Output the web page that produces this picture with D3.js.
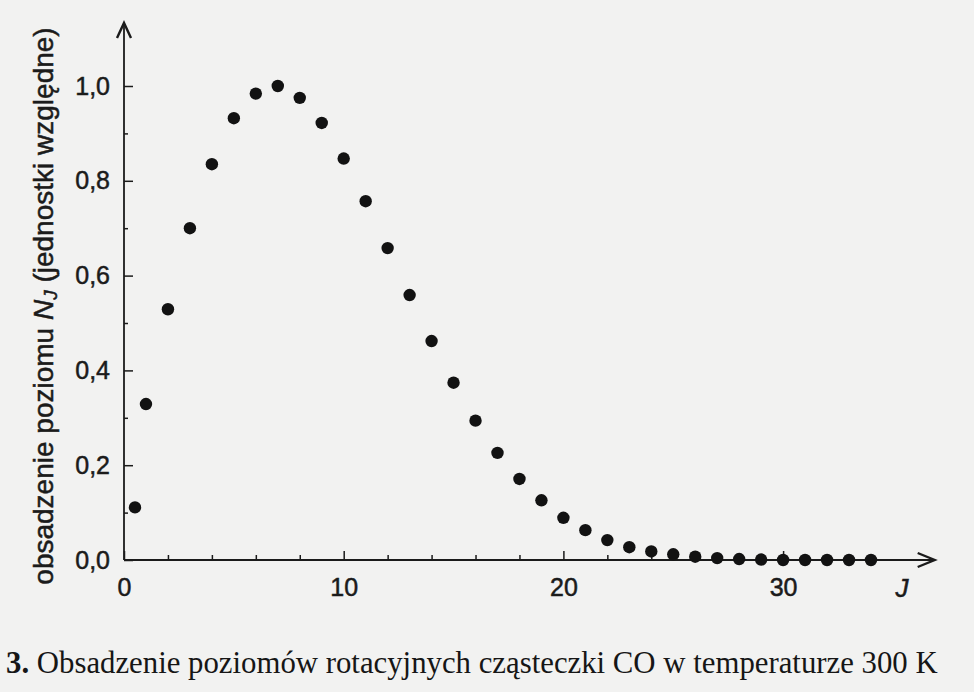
<!DOCTYPE html>
<html>
<head>
<meta charset="utf-8">
<script src="https://cdn.jsdelivr.net/npm/d3@7"></script>
<style>
  html, body { margin: 0; padding: 0; background: #f2f2f1; }
  svg { display: block; }
</style>
</head>
<body>
<svg id="chart" width="974" height="692"></svg>
<script>
// ---- data ----
// rotational quantum number J (the J = 0 point is drawn half a unit right of the axis)
const levelJ = [0.5, 1, 2, 3, 4, 5, 6, 7, 8, 9, 10, 11, 12, 13, 14, 15, 16, 17, 18, 19,
                20, 21, 22, 23, 24, 25, 26, 27, 28, 29, 30, 31, 32, 33, 34];
// relative population N_J
const population = [0.111, 0.329, 0.529, 0.700, 0.835, 0.932, 0.984, 1.000, 0.975, 0.922,
                    0.847, 0.757, 0.658, 0.559, 0.462, 0.374, 0.294, 0.226, 0.171, 0.126,
                    0.089, 0.063, 0.042, 0.027, 0.018, 0.012, 0.007, 0.004, 0.002, 0.001,
                    0.000, 0.000, 0.000, 0.000, 0.000];
const xMajorTicks = [0, 10, 20, 30];
const xMinorTicks = [2, 4, 6, 8, 12, 14, 16, 18, 22, 24, 26, 28, 32, 34];
const yMajorTicks = [0.0, 0.2, 0.4, 0.6, 0.8, 1.0];
const yMinorTicks = [0.1, 0.3, 0.5, 0.7, 0.9];
const xAxisEnd = 36.9;   // arrow tip of the J axis
const yAxisEnd = 1.133;  // arrow tip of the N_J axis
const xTitle = "J";
const yTitleParts = ["obsadzenie poziomu ", "N", "J", " (jednostki względne)"];
const captionNumber = "3.";
const captionText = " Obsadzenie poziomów rotacyjnych cząsteczki CO w temperaturze 300 K";

// ---- drawing ----
const svg = d3.select("#chart");
const ink = "#1b1b1b";

const x = d3.scaleLinear().domain([0, 10]).range([124, 343.7]);
const y = d3.scaleLinear().domain([0, 1]).range([560, 86]);

const plLocale = d3.formatLocale({decimal: ",", thousands: " ", grouping: [3], currency: ["", " zł"]});
const fmt = plLocale.format(".1f");

const tickFont = "'Liberation Sans', Arial, Helvetica, sans-serif";

// axis lines with arrows
svg.append("line")
  .attr("x1", x(0)).attr("y1", y(0)).attr("x2", x(xAxisEnd)).attr("y2", y(0))
  .attr("stroke", ink).attr("stroke-width", 1.8);
svg.append("line")
  .attr("x1", x(0)).attr("y1", y(0)).attr("x2", x(0)).attr("y2", y(yAxisEnd))
  .attr("stroke", ink).attr("stroke-width", 1.8);
// arrow heads
const xt = x(xAxisEnd), yt = y(0);
svg.append("path")
  .attr("d", `M${xt - 17},${yt - 7} L${xt},${yt} L${xt - 17},${yt + 7}`)
  .attr("fill", "none").attr("stroke", ink).attr("stroke-width", 2.4)
  .attr("stroke-linejoin", "miter");
const ytx = x(0), yty = y(yAxisEnd);
svg.append("path")
  .attr("d", `M${ytx - 7},${yty + 15} L${ytx},${yty} L${ytx + 7},${yty + 15}`)
  .attr("fill", "none").attr("stroke", ink).attr("stroke-width", 2.4)
  .attr("stroke-linejoin", "miter");

function styleAxis(g, fontSize) {
  g.select(".domain").remove();
  g.selectAll(".tick line").attr("stroke", ink).attr("stroke-width", 1.5);
  g.selectAll(".tick text").attr("fill", ink)
    .attr("stroke", ink).attr("stroke-width", 0.5)
    .style("font-family", tickFont).style("font-size", fontSize + "px");
}

// x axis: major ticks (inward) with labels
svg.append("g")
  .attr("transform", `translate(0,${y(0)})`)
  .call(d3.axisBottom(x).tickValues(xMajorTicks).tickSize(-9).tickPadding(18).tickFormat(d3.format("d")))
  .call(g => styleAxis(g, 25));
// x axis: minor ticks
svg.append("g")
  .attr("transform", `translate(0,${y(0)})`)
  .call(d3.axisBottom(x).tickValues(xMinorTicks).tickSize(-5).tickFormat(""))
  .call(g => styleAxis(g, 25));

// y axis: major ticks (inward) with labels
svg.append("g")
  .attr("transform", `translate(${x(0)},0)`)
  .call(d3.axisLeft(y).tickValues(yMajorTicks).tickSize(-9).tickPadding(14).tickFormat(fmt))
  .call(g => styleAxis(g, 25));
// y axis: minor ticks
svg.append("g")
  .attr("transform", `translate(${x(0)},0)`)
  .call(d3.axisLeft(y).tickValues(yMinorTicks).tickSize(-4).tickFormat(""))
  .call(g => styleAxis(g, 25));

// axis titles
svg.append("text")
  .attr("x", 902).attr("y", 597)
  .attr("text-anchor", "middle")
  .attr("fill", ink).attr("stroke", ink).attr("stroke-width", 0.5)
  .style("font-family", tickFont).style("font-size", "26px").style("font-style", "italic")
  .text(xTitle);

const yLab = svg.append("text")
  .attr("transform", "translate(53,306) rotate(-90)")
  .attr("text-anchor", "middle")
  .attr("fill", ink).attr("stroke", ink).attr("stroke-width", 0.5)
  .style("font-family", tickFont).style("font-size", "28px");
yLab.append("tspan").text(yTitleParts[0]);
yLab.append("tspan").style("font-style", "italic").text(yTitleParts[1]);
yLab.append("tspan").style("font-style", "italic").style("font-size", "19px")
  .attr("baseline-shift", "-20%").text(yTitleParts[2]);
yLab.append("tspan").text(yTitleParts[3]);

// data points
const pts = levelJ.map((j, i) => ({j, n: population[i]}));
svg.append("g").selectAll("circle")
  .data(pts)
  .join("circle")
  .attr("cx", d => x(d.j))
  .attr("cy", d => y(d.n))
  .attr("r", 6.2)
  .attr("fill", "#121212");

// caption
const cap = svg.append("text")
  .attr("x", 6).attr("y", 673)
  .attr("fill", "#161616")
  .style("font-family", "'Liberation Serif', 'DejaVu Serif', serif")
  .style("font-size", "28px");
cap.append("tspan").style("font-weight", "bold").text(captionNumber);
cap.append("tspan").text(captionText);
// fit the caption to the printed width
const targetW = 932;
const w = cap.node().getComputedTextLength();
cap.style("font-size", (28 * targetW / w).toFixed(2) + "px");
</script>
</body>
</html>
